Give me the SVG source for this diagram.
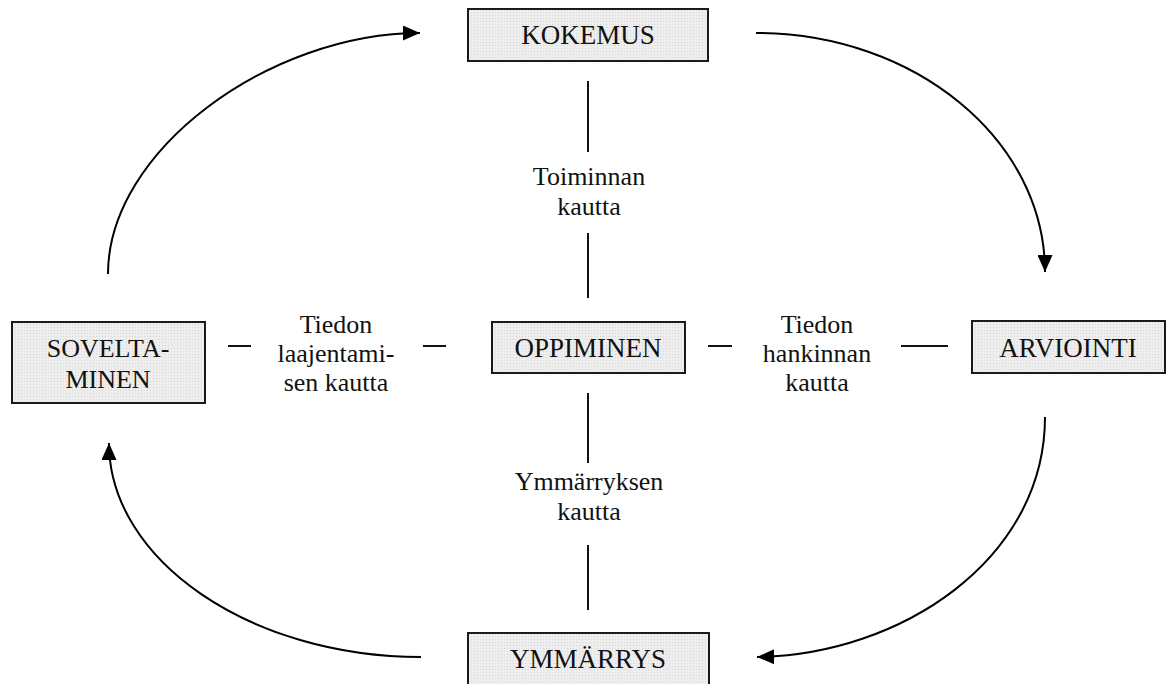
<svg xmlns="http://www.w3.org/2000/svg" width="1173" height="684" viewBox="0 0 1173 684">
  <style>
    .box { fill: url(#dots); stroke: #1a1a1a; stroke-width: 2; }
    text { font-family: 'Liberation Serif', 'Times New Roman', serif; font-size: 26px; fill: #111; text-anchor: middle; }
    .cap { font-size: 27px; }
    .cap2 { font-size: 26px; }
    .tick { stroke: #111; stroke-width: 2; fill: none; }
    .arc { stroke: #000; stroke-width: 2; fill: none; marker-end: url(#head); }
  </style>
  <defs>
    <!-- fine dotted grey fill used inside the boxes -->
    <pattern id="dots" width="3" height="3" patternUnits="userSpaceOnUse">
      <rect width="3" height="3" fill="#eeeeee"/>
      <rect width="1" height="1" fill="#d6d6d6"/>
    </pattern>
    <marker id="head" viewBox="0 0 17 15" refX="17" refY="7.5" markerWidth="17" markerHeight="15" markerUnits="userSpaceOnUse" orient="auto">
      <path d="M0,0 L17,7.5 L0,15 Z" fill="#000"/>
    </marker>
  </defs>

  <rect width="1173" height="684" fill="#ffffff"/>

  <!-- connectors -->
  <g id="connectors">
    <!-- cycle arrows -->
    <path class="arc" d="M108,274 C108,150 270,33 420,33"/>
    <path class="arc" d="M756,33 C915,33 1045,140 1045,272"/>
    <path class="arc" d="M1045,417 C1045,560 900,655 757,657"/>
    <path class="arc" d="M421,657 C250,657 109,560 109,443"/>
    <!-- spokes to the centre -->
    <line class="tick" x1="588" y1="81" x2="588" y2="152"/>
    <line class="tick" x1="588" y1="233" x2="588" y2="298"/>
    <line class="tick" x1="588" y1="393" x2="588" y2="463"/>
    <line class="tick" x1="588" y1="545" x2="588" y2="610"/>
    <line class="tick" x1="228" y1="346" x2="251" y2="346"/>
    <line class="tick" x1="423" y1="346" x2="446" y2="346"/>
    <line class="tick" x1="708" y1="346" x2="732" y2="346"/>
    <line class="tick" x1="901" y1="346" x2="948" y2="346"/>
    <!-- spoke labels -->
    <text x="589" y="185">Toiminnan</text>
    <text x="589" y="215">kautta</text>
    <text x="589" y="490">Ymmärryksen</text>
    <text x="589" y="520">kautta</text>
    <text x="336" y="333">Tiedon</text>
    <text x="336" y="362">laajentami-</text>
    <text x="336" y="391">sen kautta</text>
    <text x="817" y="333">Tiedon</text>
    <text x="817" y="362">hankinnan</text>
    <text x="817" y="391">kautta</text>
  </g>

  <g id="kokemus">
    <rect class="box" x="468" y="9" width="240" height="52"/>
    <text class="cap" x="588" y="44">KOKEMUS</text>
  </g>
  <g id="soveltaminen">
    <rect class="box" x="12" y="322" width="193" height="81"/>
    <text class="cap2" x="108" y="357">SOVELTA-</text>
    <text class="cap2" x="108" y="388">MINEN</text>
  </g>
  <g id="oppiminen">
    <rect class="box" x="492" y="322" width="193" height="51"/>
    <text class="cap" x="588" y="357">OPPIMINEN</text>
  </g>
  <g id="arviointi">
    <rect class="box" x="972" y="321" width="193" height="52"/>
    <text class="cap" x="1068" y="357">ARVIOINTI</text>
  </g>
  <g id="ymmarrys">
    <rect class="box" x="468" y="633" width="241" height="53"/>
    <text class="cap" x="588" y="668">YMMÄRRYS</text>
  </g>
</svg>
